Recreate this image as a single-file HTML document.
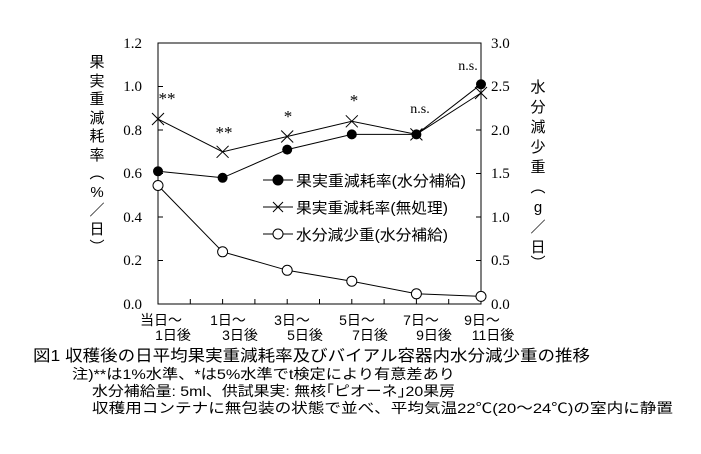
<!DOCTYPE html>
<html><head><meta charset="utf-8"><style>
body{margin:0;background:#fff;}
svg text{font-family:"Liberation Sans","Noto Sans CJK JP",sans-serif;fill:#000;}
.s{font-family:"Liberation Serif","Noto Serif CJK SC",serif;}
</style></head><body>
<svg width="701" height="449" viewBox="0 0 701 449" xmlns="http://www.w3.org/2000/svg">
<rect width="701" height="449" fill="#fff"/>
<rect x="158" y="43" width="323" height="261" fill="none" stroke="#000" stroke-width="1"/>
<g stroke="#000">
<line x1="158" y1="260.5" x2="163" y2="260.5"/><line x1="158" y1="217" x2="163" y2="217"/><line x1="158" y1="173.5" x2="163" y2="173.5"/><line x1="158" y1="130" x2="163" y2="130"/><line x1="158" y1="86.5" x2="163" y2="86.5"/>
<line x1="476" y1="260.5" x2="481" y2="260.5"/><line x1="476" y1="217" x2="481" y2="217"/><line x1="476" y1="173.5" x2="481" y2="173.5"/><line x1="476" y1="130" x2="481" y2="130"/><line x1="476" y1="86.5" x2="481" y2="86.5"/>
<line x1="190.3" y1="304" x2="190.3" y2="299"/><line x1="222.6" y1="304" x2="222.6" y2="299"/><line x1="254.9" y1="304" x2="254.9" y2="299"/><line x1="287.2" y1="304" x2="287.2" y2="299"/><line x1="319.5" y1="304" x2="319.5" y2="299"/><line x1="351.8" y1="304" x2="351.8" y2="299"/><line x1="384.1" y1="304" x2="384.1" y2="299"/><line x1="416.4" y1="304" x2="416.4" y2="299"/><line x1="448.7" y1="304" x2="448.7" y2="299"/>
</g>
<g font-size="15" class="s" text-anchor="end">
<text class="s" x="142" y="309">0.0</text><text class="s" x="142" y="265">0.2</text><text class="s" x="142" y="222">0.4</text><text class="s" x="142" y="178">0.6</text><text class="s" x="142" y="135">0.8</text><text class="s" x="142" y="91">1.0</text><text class="s" x="142" y="48">1.2</text>
</g>
<g font-size="15" class="s">
<text class="s" x="491" y="309">0.0</text><text class="s" x="491" y="265">0.5</text><text class="s" x="491" y="222">1.0</text><text class="s" x="491" y="178">1.5</text><text class="s" x="491" y="135">2.0</text><text class="s" x="491" y="91">2.5</text><text class="s" x="491" y="48">3.0</text>
</g>
<g font-size="15" text-anchor="middle">
<text x="97" y="67">果</text><text x="97" y="86">実</text><text x="97" y="104">重</text><text x="97" y="123">減</text><text x="97" y="141">耗</text><text x="97" y="160">率</text><text x="97" y="178">︵</text><text x="97" y="197">%</text><text x="97" y="215">／</text><text x="97" y="234">日</text><text x="97" y="252">︶</text>
<text x="538" y="92">水</text><text x="538" y="112">分</text><text x="538" y="132">減</text><text x="538" y="152">少</text><text x="538" y="172">重</text><text x="538" y="192">︵</text><text x="538" y="212">g</text><text x="538" y="232">／</text><text x="538" y="252">日</text><text x="538" y="268">︶</text>
</g>
<polyline fill="none" stroke="#000" points="158,171.3 222.6,177.8 287.2,149.6 351.8,134.4 416.4,134.4 481,84.3"/>
<polyline fill="none" stroke="#000" points="158,119.1 222.6,151.8 287.2,136.5 351.8,121.3 416.4,134.4 481,93"/>
<polyline fill="none" stroke="#000" points="158,185.5 222.6,251.8 287.2,270.3 351.8,281.2 416.4,293.8 481,296.4"/>
<g fill="#000">
<circle cx="158" cy="171.3" r="5"/><circle cx="222.6" cy="177.8" r="5"/><circle cx="287.2" cy="149.6" r="5"/><circle cx="351.8" cy="134.4" r="5"/><circle cx="416.4" cy="134.4" r="5"/><circle cx="481" cy="84.3" r="5"/>
</g>
<g stroke="#000" fill="none">
<path d="M152,113 l12,12 M164,113 l-12,12"/><path d="M216.6,145.8 l12,12 M228.6,145.8 l-12,12"/><path d="M281.2,130.5 l12,12 M293.2,130.5 l-12,12"/><path d="M345.8,115.3 l12,12 M357.8,115.3 l-12,12"/><path d="M410.4,128.4 l12,12 M422.4,128.4 l-12,12"/><path d="M475,87 l12,12 M487,87 l-12,12"/>
</g>
<g stroke="#000" fill="#fff">
<circle cx="158" cy="185.5" r="5"/><circle cx="222.6" cy="251.8" r="5"/><circle cx="287.2" cy="270.3" r="5"/><circle cx="351.8" cy="281.2" r="5"/><circle cx="416.4" cy="293.8" r="5"/><circle cx="481" cy="296.4" r="5"/>
</g>
<g font-size="17" text-anchor="middle" class="s">
<text class="s" x="167" y="104">**</text><text class="s" x="224" y="138">**</text><text class="s" x="288" y="122">*</text><text class="s" x="354" y="106">*</text>
</g>
<g font-size="14" text-anchor="middle" class="s">
<text class="s" x="420" y="113">n.s.</text><text class="s" x="468" y="70">n.s.</text>
</g>
<g stroke="#000">
<line x1="263" y1="180" x2="293" y2="180"/><circle cx="278" cy="180" r="5" fill="#000"/>
<line x1="263" y1="207" x2="293" y2="207"/><path d="M273,202 l10,10 M283,202 l-10,10" fill="none"/>
<line x1="263" y1="234" x2="293" y2="234"/><circle cx="278" cy="234" r="5" fill="#fff"/>
</g>
<g font-size="15">
<text x="296" y="186" textLength="170" lengthAdjust="spacingAndGlyphs">果実重減耗率(水分補給)</text>
<text x="296" y="213" textLength="152" lengthAdjust="spacingAndGlyphs">果実重減耗率(無処理)</text>
<text x="296" y="240" textLength="152" lengthAdjust="spacingAndGlyphs">水分減少重(水分補給)</text>
</g>
<g font-size="14" text-anchor="middle">
<text x="161" y="325">当日～</text><text x="173" y="340">1日後</text>
<text x="228" y="325">1日～</text><text x="240" y="340">3日後</text>
<text x="292" y="325">3日～</text><text x="305" y="340">5日後</text>
<text x="357" y="325">5日～</text><text x="370" y="340">7日後</text>
<text x="421" y="325">7日～</text><text x="434" y="340">9日後</text>
<text x="482" y="325">9日～</text><text x="493" y="340">11日後</text>
</g>
<text x="33" y="361" font-size="16" textLength="557" lengthAdjust="spacingAndGlyphs">図1  収穫後の日平均果実重減耗率及びバイアル容器内水分減少重の推移</text>
<text x="72" y="379" font-size="14" textLength="383" lengthAdjust="spacingAndGlyphs">注)**は1%水準、*は5%水準でt検定により有意差あり</text>
<text x="92" y="396" font-size="14" textLength="363" lengthAdjust="spacingAndGlyphs">水分補給量: 5ml、供試果実: 無核｢ピオーネ｣20果房</text>
<text x="92" y="413" font-size="14" textLength="581" lengthAdjust="spacingAndGlyphs">収穫用コンテナに無包装の状態で並べ、平均気温22℃(20～24℃)の室内に静置</text>
</svg>
</body></html>
